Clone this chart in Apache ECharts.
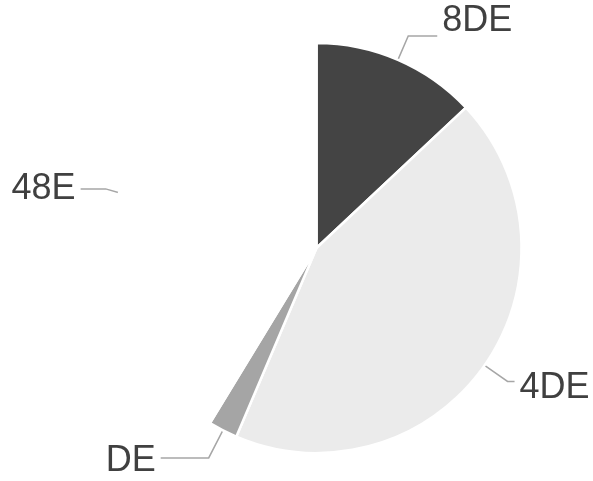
<!DOCTYPE html>
<html lang="en">
<head>
    <meta charset="UTF-8">
    <title>Pie</title>
    <script src="https://cdn.jsdelivr.net/npm/echarts@6/dist/echarts.min.js"></script>
    <style>
        html, body { margin: 0; padding: 0; background: #fff; }
        #main { width: 593px; height: 481px; }
    </style>
</head>
<body>
<div id="main"></div>
<script>
    // slice names and shares (percent)
    var names = ['8DE', '4DE', 'DE', '48E'];
    var values = [13.0, 43.4, 2.3, 41.3];
    var colors = ['#444444', '#ebebeb', '#a5a5a5', '#ffffff'];
    // label line lengths and vertical text shift (+ down, - up) per slice
    var len1 = [26, 28, 31, 14];
    var len2 = [29, 7, 48, 25];
    var shift = [-14.5, 6.5, 3.5, 0];

    var rich = {
        t: {
            fontSize: 36,
            lineHeight: 36,
            color: '#404040',
            fontFamily: 'Liberation Sans, Arial, sans-serif'
        }
    };
    var data = [];
    for (var i = 0; i < names.length; i++) {
        var fmt = '{t|{b}}';
        if (shift[i] !== 0) {
            rich['s' + i] = { fontSize: 1, lineHeight: Math.abs(shift[i]) * 2 };
            fmt = shift[i] < 0 ? '{t|{b}}\n{s' + i + '| }' : '{s' + i + '| }\n{t|{b}}';
        }
        data.push({
            name: names[i],
            value: values[i],
            itemStyle: { color: colors[i] },
            labelLine: { length: len1[i], length2: len2[i] },
            label: { formatter: fmt }
        });
    }

    var myChart = echarts.init(document.getElementById('main'));
    var option = {
        animation: false,
        series: [
            {
                type: 'pie',
                center: [316.5, 248],
                radius: [0, 205],
                startAngle: 90,
                clockwise: true,
                avoidLabelOverlap: false,
                itemStyle: {
                    borderColor: '#ffffff',
                    borderWidth: 2.5
                },
                label: {
                    fontSize: 36,
                    color: '#404040',
                    fontFamily: 'Liberation Sans, Arial, sans-serif',
                    distanceToLabelLine: 5,
                    rich: rich
                },
                labelLine: {
                    lineStyle: { color: '#a6a6a6', width: 1.5 }
                },
                emphasis: { disabled: true },
                data: data
            }
        ]
    };
    myChart.setOption(option);
</script>
</body>
</html>
